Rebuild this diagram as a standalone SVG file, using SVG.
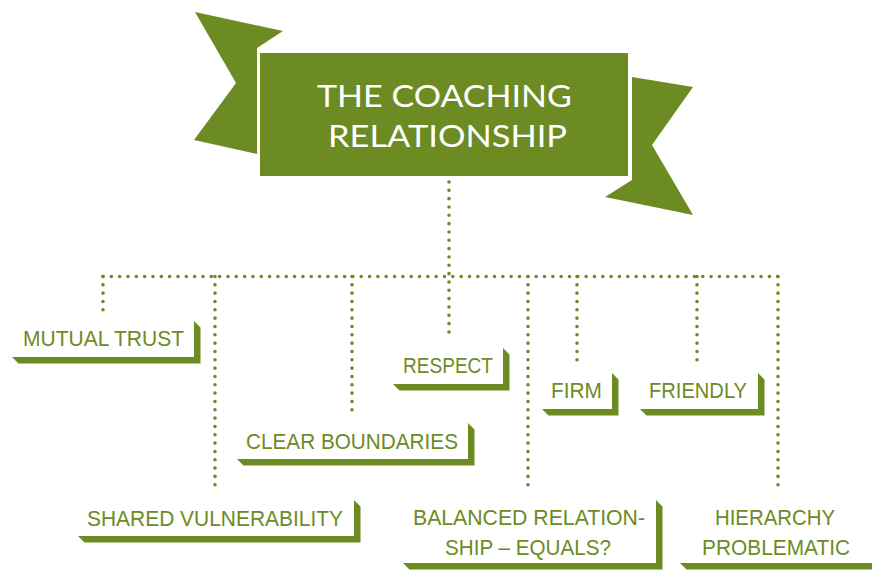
<svg xmlns="http://www.w3.org/2000/svg" width="872" height="570" viewBox="0 0 872 570">
<style>
.g{fill:#6d8b23}
.face{fill:#ffffff}
.lbl{font-family:"Liberation Sans",Arial,sans-serif;font-size:21.5px;fill:#6d8b23;text-anchor:middle}
.ttl{font-family:"Lato","Liberation Sans",sans-serif;font-size:31px;fill:#ffffff;text-anchor:middle}
.dot{fill:none;stroke:#6d8b23;stroke-width:3.6;stroke-linecap:round;stroke-dasharray:0 8.33}
</style>
<rect width="872" height="570" fill="#ffffff"/>
<g id="title">
  <polygon class="g" points="195,12 283,31 257,48 257,154 194,140 236,83"/>
  <polygon class="g" points="632,77 693,87 652,145 693,215 605,197 632,180"/>
  <rect x="259" y="52" width="370" height="125" class="g" stroke="#ffffff" stroke-width="2"/>
  <text class="ttl" x="444.5" y="107" textLength="255" lengthAdjust="spacingAndGlyphs">THE COACHING</text>
  <text class="ttl" x="447.5" y="147" textLength="239" lengthAdjust="spacingAndGlyphs">RELATIONSHIP</text>
</g>
<g id="connectors">
  <path class="dot" d="M449 182 V340"/>
  <path class="dot" d="M103 276.5 H778"/>
  <path class="dot" d="M103 276.5 V313"/>
  <path class="dot" d="M215 276.5 V492"/>
  <path class="dot" d="M352 276.5 V415"/>
  <path class="dot" d="M528 276.5 V492"/>
  <path class="dot" d="M577 276.5 V366"/>
  <path class="dot" d="M697 276.5 V366"/>
  <path class="dot" d="M778 276.5 V492"/>
</g>
<g id="mutual-trust">
  <polygon class="g" points="194,321 200.5,327.5 200.5,363.5 18.5,363.5 12,357 194,357"/>
  <text class="lbl" x="103.5" y="346" textLength="161" lengthAdjust="spacingAndGlyphs">MUTUAL TRUST</text>
</g>
<g id="respect">
  <polygon class="g" points="503,348 509.5,354.5 509.5,390.5 399.5,390.5 393,384 503,384"/>
  <text class="lbl" x="448" y="373" textLength="90" lengthAdjust="spacingAndGlyphs">RESPECT</text>
</g>
<g id="firm">
  <polygon class="g" points="612,373 618.5,379.5 618.5,415.5 548.5,415.5 542,409 612,409"/>
  <text class="lbl" x="576.5" y="398" textLength="51" lengthAdjust="spacingAndGlyphs">FIRM</text>
</g>
<g id="friendly">
  <polygon class="g" points="758,373 764.5,379.5 764.5,415.5 646.5,415.5 640,409 758,409"/>
  <text class="lbl" x="698" y="398" textLength="98" lengthAdjust="spacingAndGlyphs">FRIENDLY</text>
</g>
<g id="clear-boundaries">
  <polygon class="g" points="468,423 474.5,429.5 474.5,465.5 243.5,465.5 237,459 468,459"/>
  <text class="lbl" x="352" y="449" textLength="212" lengthAdjust="spacingAndGlyphs">CLEAR BOUNDARIES</text>
</g>
<g id="shared-vulnerability">
  <polygon class="g" points="354,500 360.5,506.5 360.5,542.5 84.5,542.5 78,536 354,536"/>
  <text class="lbl" x="215" y="526" textLength="256" lengthAdjust="spacingAndGlyphs">SHARED VULNERABILITY</text>
</g>
<g id="balanced-relationship">
  <polygon class="g" points="656,500 662.5,506.5 662.5,569.5 409.5,569.5 403,563 656,563"/>
  <text class="lbl" x="529" y="525" textLength="232" lengthAdjust="spacingAndGlyphs">BALANCED RELATION-</text>
  <text class="lbl" x="528" y="555" textLength="166" lengthAdjust="spacingAndGlyphs">SHIP – EQUALS?</text>
</g>
<g id="hierarchy-problematic">
  <polygon class="g" points="872,500 878.5,506.5 878.5,569.5 686.5,569.5 680,563 872,563"/>
  <text class="lbl" x="775" y="525" textLength="120" lengthAdjust="spacingAndGlyphs">HIERARCHY</text>
  <text class="lbl" x="776" y="555" textLength="148" lengthAdjust="spacingAndGlyphs">PROBLEMATIC</text>
</g>
</svg>
